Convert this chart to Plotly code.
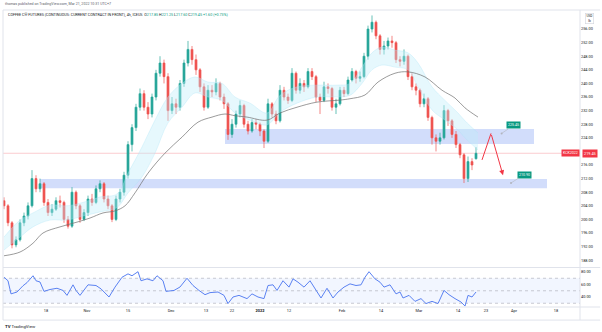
import plotly.graph_objects as go

# ---------------- data ----------------
bar_idx = list(range(119))
opens = [205.5, 204, 199, 192.5, 194, 199, 201, 204, 212, 209,
         210.5, 205, 202, 203, 205.5, 205, 200, 198, 208, 204,
         200, 202, 206, 205, 209, 210.5, 206, 204, 200, 206,
         208, 213, 222, 227, 233, 237, 233, 231, 236, 243,
         246, 242, 232, 234, 233, 240, 246, 250, 247, 244,
         239, 233, 238, 237.5, 240, 236, 234, 225, 228, 231,
         233.5, 228, 226, 228.5, 228, 226, 223, 234, 231, 229,
         238, 236, 235, 243, 238, 240, 239, 243.5, 242, 236,
         235, 239, 238.5, 233, 234, 238, 237, 241, 243.5, 241.5,
         242, 248, 256, 258, 254, 250, 251, 252.5, 252, 247,
         246.5, 248, 242, 239, 238, 234, 235.5, 230, 224, 223,
         224, 232, 229, 225, 222, 219, 212, 217, 217.85]
highs = [206.5, 204.5, 199.5, 195, 200, 202, 205, 214.5, 213, 212,
         211, 206, 204.5, 206.5, 207, 205.5, 201, 209.5, 208.5, 204.5,
         203, 207, 207.5, 210, 211.5, 211, 207, 204.5, 207, 209,
         214, 223, 228, 234, 238.5, 238, 234.5, 237, 244, 248,
         247, 243, 236, 235.5, 241, 247, 252.5, 251, 248.5, 244.5,
         240, 239.5, 239.5, 241.5, 240.5, 237, 234.5, 229.5, 232, 235,
         234, 229, 229.5, 229.5, 228.5, 226.5, 235.5, 234.5, 232, 239.5,
         239, 237, 244.5, 243.5, 241.5, 241, 244.5, 244.5, 242.5, 237,
         240.5, 240, 239, 235.5, 239, 239, 242, 244.5, 244, 243.5,
         249, 257, 260, 258.5, 254.5, 252.5, 253.5, 254, 252.5, 248,
         250, 248.5, 243, 240, 238.5, 237, 236, 230.5, 225, 225.5,
         233.6, 232.5, 229.5, 226, 222.5, 219.5, 218.5, 218, 221.25]
lows = [203, 198, 191.5, 191.8, 193.5, 198, 200, 203.5, 208, 208,
        204, 201, 201, 202.5, 203.5, 199, 197.3, 197.5, 203, 199,
        199.5, 201, 204, 204.5, 208, 205, 203, 199.2, 199.5, 205,
        207, 212, 220, 226, 232, 232, 229.5, 230, 235, 242,
        240, 229, 231, 231, 232, 239, 245, 245.5, 242.5, 237.5,
        232, 232.5, 236, 236.5, 235, 232.5, 223.4, 224, 227, 230,
        227, 225, 225.5, 226.5, 224.5, 221, 222.5, 230, 228, 228.5,
        235, 234, 234.5, 237, 237, 237.5, 238.5, 241, 234.5, 231,
        234.5, 237, 232, 231, 233.5, 236, 236.5, 240.5, 240, 240.5,
        241.5, 247, 255, 253, 248.5, 248.5, 250, 250.5, 246, 245,
        245.5, 241, 238, 236.5, 233, 233, 229, 222, 220, 222,
        223.5, 227.5, 224, 221, 218, 210.7, 211, 214.5, 217.6]
closes = [204, 199, 192.5, 194, 199, 201, 204, 212, 209, 210.5,
          205, 202, 203, 205.5, 205, 200, 198, 208, 204, 200,
          202, 206, 205, 209, 210.5, 206, 204, 200, 206, 208,
          213, 222, 227, 233, 237, 233, 231, 236, 243, 246,
          242, 232, 234, 233, 240, 246, 250, 247, 244, 239,
          233, 238, 237.5, 240, 236, 234, 225, 228, 231, 233.5,
          228, 226, 228.5, 228, 226, 223, 234, 231, 229, 238,
          236, 235, 243, 238, 240, 239, 243.5, 242, 236, 235,
          239, 238.5, 233, 234, 238, 237, 241, 243.5, 241.5, 242,
          248, 256, 258, 254, 250, 251, 252.5, 252, 247, 246.5,
          248, 242, 239, 238, 234, 235.5, 230, 224, 223, 224,
          232, 229, 225, 222, 219, 212, 217, 216, 219.45]

# slow moving average (grey line)
ma_idx = [0, 4, 7.25, 9.75, 14, 18.25, 21.5, 24.75, 27.75, 30.25, 32.75, 36,
          40.25, 44.5, 48.5, 52, 55.25, 57.75, 60.75, 65.75, 69, 73.25, 78.25,
          84, 86.5, 90.25, 93.5, 97.75, 101, 105.25, 109.5, 112.75, 115.25, 118.5]
ma_val = [189.3, 190.4, 193, 196, 197.8, 199.2, 200.4, 201.9, 202.5, 204, 207.8,
          213.6, 219.5, 224.2, 228.6, 230.1, 231, 230.5, 230.1, 229.2, 231.3, 233,
          234.5, 235.1, 235.5, 236.6, 240.4, 243, 243.4, 241.9, 238, 235.7, 232.8, 230.1]

# fast ribbon (light cyan band)
band_idx = [0, 4, 7.25, 11.5, 15.75, 19.75, 24, 28.25, 31, 34.5, 37.75, 41, 44.5,
            47.75, 51, 54.5, 57.75, 61.5, 65.75, 69, 73.25, 78.25, 83.25, 86.5,
            89.5, 92, 94.5, 97.75, 101, 103.5, 107, 110.25, 113.5, 115.25, 118.5]
band_hi = [194.8, 199.8, 201.9, 204.2, 204, 205, 206.6, 207.5, 213.6, 221.3, 229.2,
           236, 240, 241.9, 240.4, 240, 236, 234.2, 231.3, 236.5, 239, 239.5, 239.5,
           240, 244.8, 249, 250.7, 249.8, 249, 246, 239, 235, 231.3, 229, 225.4]
band_lo = [191, 194.8, 197.8, 199.8, 199.8, 201, 202.2, 203.5, 207.8, 212.5, 219.5,
           228.4, 233, 237.2, 236, 235, 231.3, 229.2, 227.8, 231.5, 234.2, 236, 236,
           236.5, 240, 244, 245.4, 244.8, 244, 239, 232.2, 229.2, 226.3, 224, 220.4]

# RSI
rsi_idx = [0, 1, 1.75, 3.25, 4.75, 5.75, 7.25, 8, 9, 10, 11.5, 13.25, 14.75, 15.75,
           17.25, 18, 19, 21, 23, 24.25, 26.25, 27.75, 29.5, 31, 32, 33.5, 34.25,
           35.75, 37.25, 38.25, 39.75, 40.5, 42.5, 44, 45.75, 47.25, 48.75, 50.25,
           51.5, 53.5, 55, 56, 57.25, 58.75, 60.75, 62, 63.5, 65, 66, 67.25, 68.25,
           69.75, 71.25, 72.25, 73.5, 75, 76.5, 77.75, 79.25, 80.75, 82.25, 83.5, 85,
           86.5, 88, 89.25, 90.25, 91.25, 92.75, 94, 95, 96.5, 98, 99, 99.75, 101.25,
           102.75, 104.25, 105.5, 107, 108.5, 110, 111.25, 112.75, 114.25, 115.25,
           116, 117, 118]
rsi_val = [71.6, 66, 45, 48, 58, 63, 74, 66, 64, 49, 52, 54, 50.5, 42.6,
           59.5, 50.5, 42.6, 59.5, 58.4, 53, 40, 55.8, 71.6, 77, 74, 80.5, 66,
           69, 66, 74, 66, 49, 50.5, 56, 70, 58.4, 50.5, 43.7,
           47, 48, 42.6, 29.5, 40, 42.6, 37.4, 45, 40, 37.4, 58.4, 59.5, 50.5,
           66, 55.8, 69, 63.7, 55.8, 66, 53, 38.4, 54, 38.4, 48, 55.8,
           61, 58.4, 59.5, 71.6, 80.5, 69, 63.7, 55.8, 59.5, 45, 48, 38.4, 42.6,
           33, 37.4, 29.5, 33, 29.5, 50.5, 43.7, 37.4, 32, 25.5,
           42.6, 40, 48]

# drawings / zones
zone_hi = dict(x0=55.25, x1=132.5, y0=222.2, y1=226.6)
zone_lo = dict(x0=9, x1=135.75, y0=209.2, y1=211.9)
level_labels = [225.45, 210.90]
level_pts_idx = [124.4, 126.75]
level_pts_val = [225.3, 210.7]
arrow_idx = [119.5, 121.75, 124.75]
arrow_val = [217.5, 225.3, 213.0]

tick_idx = [10.5, 20.75, 31, 41.75, 50.5, 57, 64, 71.25, 84.5, 94.25, 103.75,
            113.5, 120.5, 127.5, 138]
tick_text = ["18", "Nov", "15", "Dec", "13", "22", "<b>2022</b>", "12", "Feb",
             "14", "Mar", "14", "23", "Apr", "18"]
# 220.00 is hidden behind the last-price label in the reference
price_ticks = [188, 192, 196, 200, 204, 208, 212, 216, 224, 228, 232, 236, 240,
               244, 248, 252, 256]
rsi_ticks = [40, 60, 80]

UP = "#26a69a"
DN = "#ef5350"
FONT = "Roboto"
TXT = "#131722"

fig = go.Figure()

# ribbon
fig.add_trace(go.Scatter(x=band_idx, y=band_lo, mode="lines",
                         line=dict(color="rgba(170,228,245,0.55)", width=0.6, shape="spline"),
                         hoverinfo="skip", showlegend=False))
fig.add_trace(go.Scatter(x=band_idx, y=band_hi, mode="lines", fill="tonexty",
                         fillcolor="rgba(190,236,250,0.38)",
                         line=dict(color="rgba(170,228,245,0.55)", width=0.6, shape="spline"),
                         hoverinfo="skip", showlegend=False))
# grey MA
fig.add_trace(go.Scatter(x=ma_idx, y=ma_val, mode="lines",
                         line=dict(color="#707070", width=0.7, shape="spline"),
                         hoverinfo="skip", showlegend=False))
# candles
fig.add_trace(go.Candlestick(x=bar_idx, open=opens, high=highs, low=lows, close=closes,
                             increasing=dict(line=dict(color=UP, width=0.7), fillcolor=UP),
                             decreasing=dict(line=dict(color=DN, width=0.7), fillcolor=DN),
                             whiskerwidth=0, showlegend=False))
# red path drawing
fig.add_trace(go.Scatter(x=arrow_idx[:2], y=arrow_val[:2], mode="lines",
                         line=dict(color="#f23645", width=1),
                         hoverinfo="skip", showlegend=False))
# label anchor dots
fig.add_trace(go.Scatter(x=level_pts_idx, y=level_pts_val, mode="markers",
                         marker=dict(color="#b2b5be", size=2),
                         hoverinfo="skip", showlegend=False))

# RSI
fig.add_trace(go.Scatter(x=rsi_idx, y=rsi_val, mode="lines", yaxis="y2",
                         line=dict(color="#5b82f2", width=1),
                         hoverinfo="skip", showlegend=False))

shapes = []
for z in (zone_hi, zone_lo):
    shapes.append(dict(type="rect", xref="x", yref="y", layer="below",
                       x0=z["x0"], x1=z["x1"], y0=z["y0"], y1=z["y1"],
                       fillcolor="rgba(90,130,240,0.27)", line=dict(width=0)))
shapes.append(dict(type="line", xref="paper", yref="y", x0=0, x1=1,
                   y0=closes[-1], y1=closes[-1], layer="below",
                   line=dict(color="rgba(242,54,69,0.25)", width=1)))
# RSI band & levels
shapes.append(dict(type="rect", xref="paper", yref="y2", x0=0, x1=1, y0=30, y1=70,
                   layer="below", fillcolor="rgba(41,98,255,0.06)", line=dict(width=0)))
for lv in (70, 50, 30):
    shapes.append(dict(type="line", xref="paper", yref="y2", x0=0, x1=1, y0=lv, y1=lv,
                       layer="below", line=dict(color="#b2b5be", width=0.7, dash="dot")))
# frame lines
BR = "#e0e3eb"
shapes += [
    dict(type="line", xref="paper", yref="paper", x0=0, x1=0, y0=-0.044, y1=1, line=dict(color=BR, width=1)),
    dict(type="line", xref="paper", yref="paper", x0=0, x1=1.035, y0=1, y1=1, line=dict(color=BR, width=1)),
    dict(type="line", xref="paper", yref="paper", x0=1, x1=1, y0=-0.044, y1=1, line=dict(color=BR, width=1)),
    dict(type="line", xref="paper", yref="paper", x0=0, x1=1.035, y0=0, y1=0, line=dict(color=BR, width=1)),
    dict(type="line", xref="paper", yref="paper", x0=0, x1=1.035, y0=-0.044, y1=-0.044, line=dict(color=BR, width=1)),
    dict(type="line", xref="paper", yref="paper", x0=0, x1=1.035, y0=0.133, y1=0.133, line=dict(color=BR, width=1)),
]

G = "#089981"
hdr = ("COFFEE C® FUTURES (CONTINUOUS: CURRENT CONTRACT IN FRONT), 4h, ICEUS  "
       f"O<span style='color:{G}'>{opens[-1]:.2f}</span> "
       f"H<span style='color:{G}'>{highs[-1]:.2f}</span> "
       f"L<span style='color:{G}'>{lows[-1]:.2f}</span> "
       f"C<span style='color:{G}'>{closes[-1]:.2f}</span> "
       f"<span style='color:{G}'>+1.60 (+0.73%)</span>")

ann = [
    dict(xref="paper", yref="paper", x=0.0, y=1.020, xanchor="left", yanchor="middle",
         text="thomas published on TradingView.com, Mar 21, 2022 10:31 UTC+7",
         showarrow=False, font=dict(size=3.6, color="#5d606b", family=FONT)),
    dict(xref="paper", yref="paper", x=0.005, y=0.9865, xanchor="left", yanchor="middle",
         text=hdr, showarrow=False, font=dict(size=3.7, color=TXT, family=FONT)),
    dict(xref="paper", yref="paper", x=0.0, y=-0.064, xanchor="left", yanchor="middle",
         text="<b>TV</b> TradingView", showarrow=False,
         font=dict(size=4.3, color=TXT, family=FONT)),
    dict(xref="paper", yref="y", x=0.9827, y=closes[-1], xanchor="center", yanchor="middle",
         text="KCK2022", showarrow=False, bgcolor="#f23645", borderpad=1,
         font=dict(size=3.6, color="white", family=FONT)),
    dict(xref="paper", yref="y", x=1.0175, y=closes[-1], xanchor="center", yanchor="middle",
         text=f"{closes[-1]:.2f}", showarrow=False, bgcolor="#f23645", borderpad=1,
         font=dict(size=3.8, color="white", family=FONT)),
    dict(xref="paper", yref="paper", x=1.0156, y=0.973, xanchor="center", yanchor="middle",
         text="USD<br>lb", showarrow=False, bordercolor="#d1d4dc", borderwidth=0.6, borderpad=0.8,
         font=dict(size=3.2, color=TXT, family=FONT)),
    dict(xref="x", yref="y", axref="x", ayref="y", x=arrow_idx[2], y=arrow_val[2],
         ax=arrow_idx[1], ay=arrow_val[1], text="", showarrow=True, arrowhead=2,
         arrowsize=1, arrowwidth=1, arrowcolor="#f23645", standoff=0),
]
for v, xi, yv, off in zip(level_labels, level_pts_idx, level_pts_val, [(12, -8), (13, -8.5)]):
    ann.append(dict(xref="x", yref="y", x=xi, y=yv, ax=off[0], ay=off[1],
                    text=f"{v:.2f}", showarrow=True, arrowhead=0, arrowwidth=0.6,
                    arrowcolor="#b2b5be", bgcolor=G, borderpad=1,
                    font=dict(size=3.6, color="white", family=FONT)))

fig.update_layout(
    width=602, height=332,
    margin=dict(l=3, r=22, t=10, b=25),
    paper_bgcolor="white", plot_bgcolor="white",
    showlegend=False,
    font=dict(family=FONT, color=TXT),
    shapes=shapes, annotations=ann,
    xaxis=dict(domain=[0, 1], range=[-0.25, 144], anchor="y2",
               tickvals=tick_idx, ticktext=tick_text, tickfont=dict(size=3.9, color=TXT),
               showgrid=False, zeroline=False, showline=False, ticks="",
               rangeslider=dict(visible=False), fixedrange=True),
    yaxis=dict(domain=[0.1347, 1], range=[186.0, 261.6], side="right", anchor="x",
               tickvals=price_ticks, tickformat=".2f", tickfont=dict(size=3.9, color=TXT),
               showgrid=False, zeroline=False, showline=False, ticks=""),
    yaxis2=dict(domain=[0, 0.1313], range=[24, 86.4], side="right", anchor="x",
                tickvals=rsi_ticks, tickformat=".2f", tickfont=dict(size=3.9, color=TXT),
                showgrid=False, zeroline=False, showline=False, ticks=""),
)

fig.write_html("out.html")
